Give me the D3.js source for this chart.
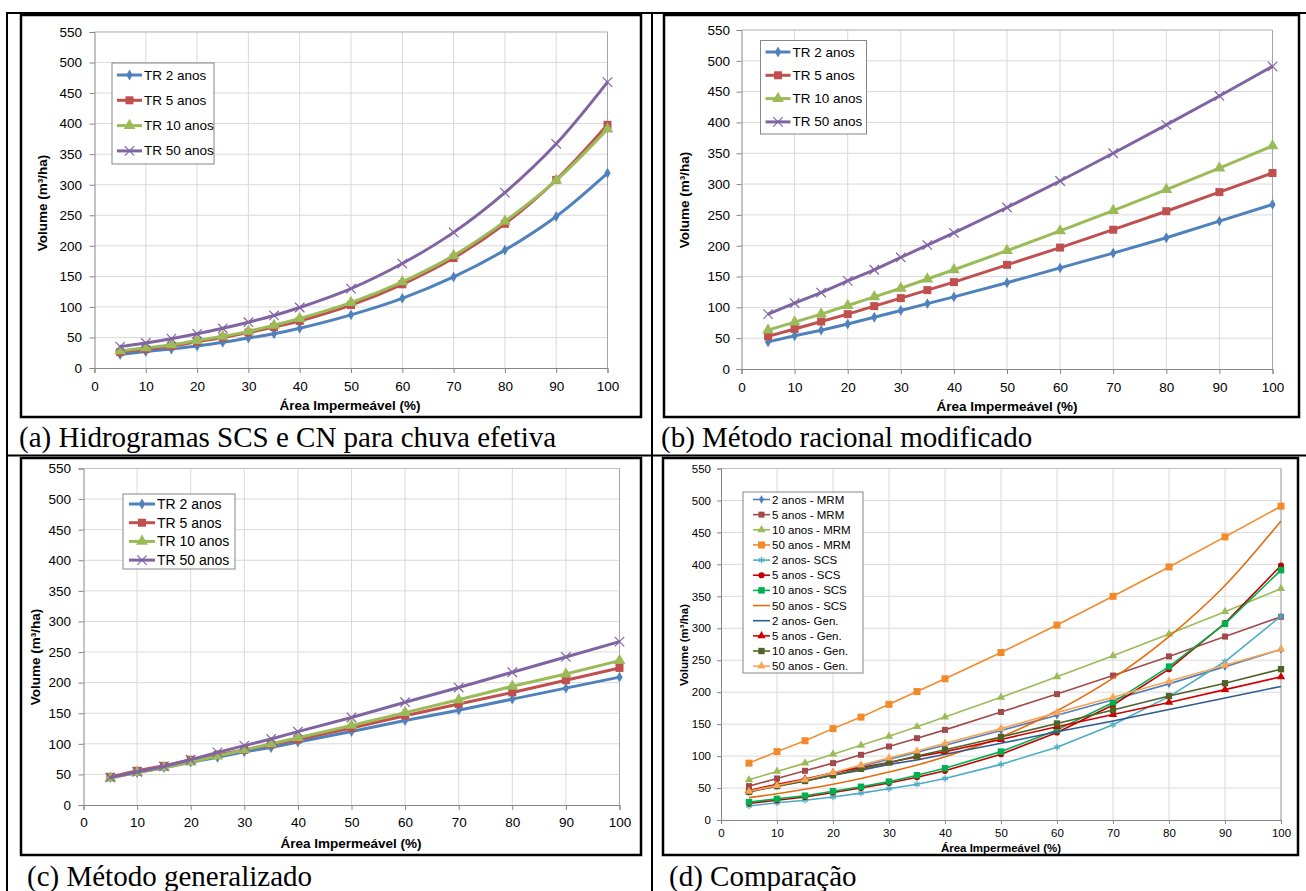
<!DOCTYPE html>
<html>
<head>
<meta charset="utf-8">
<script src="https://cdn.jsdelivr.net/npm/d3@7"></script>
<style>
  body { margin: 0; background: #fff; }
  svg { display: block; }
  text { font-family: "Liberation Sans", Arial, sans-serif; fill: #000; }
  .caption { font-family: "Liberation Serif", "Times New Roman", serif; }
</style>
</head>
<body>
<div id="canvas"></div>
<script>
// x values (% impermeable area) and axis ticks
const areas = [5, 10, 15, 20, 25, 30, 35, 40, 50, 60, 70, 80, 90, 100];
const xTicks = [0, 10, 20, 30, 40, 50, 60, 70, 80, 90, 100];
const yTicks = [0, 50, 100, 150, 200, 250, 300, 350, 400, 450, 500, 550];
const trNames = ["TR 2 anos", "TR 5 anos", "TR 10 anos", "TR 50 anos"];

// (a) hidrogramas SCS e CN
const scs2 = [22, 27, 31, 36, 42, 49, 56, 65, 87, 114, 149, 193, 248, 319];
const scs5 = [26, 31, 36, 43, 50, 58, 67, 77, 103, 137, 180, 236, 308, 398];
const scs10 = [28, 33, 38, 45, 52, 60, 70, 81, 107, 141, 184, 240, 307, 391];
const scs50 = [35, 41, 48, 56, 65, 75, 86, 99, 130, 171, 222, 287, 367, 468];
// (b) método racional modificado
const mrm2 = [44, 54, 63, 73, 84, 95, 106, 117, 140, 164, 188, 213, 240, 267];
const mrm5 = [53, 65, 77, 89, 102, 115, 128, 141, 169, 197, 226, 256, 287, 318];
const mrm10 = [63, 76, 89, 103, 117, 131, 146, 161, 192, 224, 257, 291, 326, 362];
const mrm50 = [89, 107, 124, 143, 161, 181, 201, 221, 262, 305, 350, 396, 443, 491];
// (c) método generalizado
const gen2 = [45, 53, 61, 70, 78, 87, 94, 103, 120, 138, 155, 173, 191, 209];
const gen5 = [46, 56, 64, 74, 82, 90, 99, 107, 126, 146, 165, 184, 204, 224];
const gen10 = [44, 53, 61, 70, 80, 90, 100, 110, 130, 151, 172, 194, 214, 236];
const gen50 = [45, 54, 63, 74, 86, 97, 108, 120, 143, 168, 192, 217, 242, 267];

// (d) legend names
const cmpNames = ["2 anos - MRM", "5 anos - MRM", "10 anos - MRM", "50 anos - MRM",
  "2 anos- SCS", "5 anos - SCS", "10 anos - SCS", "50 anos - SCS",
  "2 anos- Gen.", "5 anos - Gen.", "10 anos - Gen.", "50 anos - Gen."];

const trColors = ["#4f81bd", "#c0504d", "#9bbb59", "#8064a2"];
const trSymbols = [d3.symbolDiamond, d3.symbolSquare, d3.symbolTriangle, d3.symbolTimes];

const W = 1306, H = 891;
const svg = d3.select("#canvas").append("svg").attr("width", W).attr("height", H);
svg.append("rect").attr("width", W).attr("height", H).attr("fill", "#fff");

function trSeries(arrs, smooth) {
  return arrs.map((v, i) => ({name: trNames[i], values: v, color: trColors[i], symbol: trSymbols[i],
    size: [34, 64, 60, 60][i], smooth: smooth}));
}

const cmpSeries = [
  {values: mrm2, color: "#4f7fbd", symbol: d3.symbolDiamond, size: 22},
  {values: mrm5, color: "#a24a4b", symbol: d3.symbolSquare, size: 36},
  {values: mrm10, color: "#9bbb59", symbol: d3.symbolTriangle, size: 30},
  {values: mrm50, color: "#f38a2a", symbol: d3.symbolSquare, size: 49},
  {values: scs2, color: "#4bacc6", symbol: d3.symbolAsterisk, size: 30},
  {values: scs5, color: "#c00000", symbol: d3.symbolCircle, size: 30},
  {values: scs10, color: "#00b050", symbol: d3.symbolSquare, size: 42},
  {values: scs50, color: "#e46c0a", symbol: null, smooth: true},
  {values: gen2, color: "#2f5b8f", symbol: null},
  {values: gen5, color: "#d00000", symbol: d3.symbolTriangle, size: 30},
  {values: gen10, color: "#4f6228", symbol: d3.symbolSquare, size: 40},
  {values: gen50, color: "#f9a556", symbol: d3.symbolTriangle, size: 30}
].map((s, i) => Object.assign(s, {name: cmpNames[i]}));

const panels = [
  {frame: [21, 15, 641, 417], plot: [94.5, 607.5, 32, 368], series: trSeries([scs2, scs5, scs10, scs50], true),
   lw: 3, fs: 13.5, tfs: 13.5, ytitle: "Volume  (m³/ha)", ytx: 42, yty: 203, xtx: 350, xty: 405, ypad: 7.5, xpad: 8.3, tick: 5,
   legend: {x: 112, y: 63, w: 102, h: 101, first: 75, step: 25.3, l0: 117, l1: 142, tx: 144, fs: 13.5},
   caption: "(a) Hidrogramas SCS e CN para chuva efetiva", cx: 19, cy: 447},
  {frame: [664, 15, 1299, 417], plot: [741.5, 1272.5, 30, 369], series: trSeries([mrm2, mrm5, mrm10, mrm50], false),
   lw: 3, fs: 13.5, tfs: 13.5, ytitle: "Volume (m³/ha)", ytx: 684, yty: 200, xtx: 1007, xty: 406, ypad: 6.5, xpad: 8.3, tick: 5,
   legend: {x: 760.5, y: 40.5, w: 106, h: 93.5, first: 52, step: 23.3, l0: 765.5, l1: 790.5, tx: 792.5, fs: 13.5},
   caption: "(b) Método racional modificado", cx: 661, cy: 447},
  {frame: [21, 458, 641, 855], plot: [83.5, 619.5, 468.5, 805], series: trSeries([gen2, gen5, gen10, gen50], false),
   lw: 3, fs: 13.5, tfs: 13.5, ytitle: "Volume  (m³/ha)", ytx: 35, yty: 657, xtx: 351, xty: 843, ypad: 7.5, xpad: 7.3, tick: 5,
   legend: {x: 123, y: 494, w: 112, h: 75, first: 504, step: 18.7, l0: 129, l1: 155, tx: 157, fs: 14},
   caption: "(c) Método generalizado", cx: 27, cy: 886},
  {frame: [663, 458, 1298, 855], plot: [721, 1281, 468.5, 820], series: cmpSeries,
   lw: 1.6, fs: 11.5, tfs: 11.5, ytitle: "Volume (m³/ha)", ytx: 684, yty: 645, xtx: 1001, xty: 848, ypad: 6, xpad: 5, tick: 4,
   legend: {x: 743, y: 492, w: 120, h: 181, first: 499.5, step: 15.15, l0: 753, l1: 770, tx: 772, fs: 11.5},
   caption: "(d) Comparação", cx: 669, cy: 886}
];

function marker(sel, s, size) {
  const stroked = s.symbol === d3.symbolTimes || s.symbol === d3.symbolAsterisk;
  sel.attr("d", d3.symbol(s.symbol, size))
    .attr("fill", stroked ? "none" : s.color)
    .attr("stroke", stroked ? s.color : "none")
    .attr("stroke-width", stroked ? 1.2 : 0);
}

function drawPanel(p) {
  const [fx0, fy0, fx1, fy1] = p.frame;
  const [px0, px1, py0, py1] = p.plot;
  const x = d3.scaleLinear().domain([0, 100]).range([px0, px1]);
  const y = d3.scaleLinear().domain([0, 550]).range([py1, py0]);
  const g = svg.append("g");

  g.append("rect").attr("x", fx0).attr("y", fy0).attr("width", fx1 - fx0).attr("height", fy1 - fy0)
    .attr("fill", "#fff").attr("stroke", "#000").attr("stroke-width", 2.5);

  // gridlines
  g.append("g").selectAll("line").data(xTicks.slice(1)).join("line")
    .attr("x1", d => x(d)).attr("x2", d => x(d)).attr("y1", py0).attr("y2", py1)
    .attr("stroke", "#d9d9d9").attr("stroke-width", 1);
  g.append("g").selectAll("line").data(yTicks.slice(1)).join("line")
    .attr("x1", px0).attr("x2", px1).attr("y1", d => y(d)).attr("y2", d => y(d))
    .attr("stroke", "#d9d9d9").attr("stroke-width", 1);
  g.append("line").attr("x1", px1).attr("x2", px1).attr("y1", py0).attr("y2", py1).attr("stroke", "#a6a6a6");
  g.append("line").attr("x1", px0).attr("x2", px1).attr("y1", py0).attr("y2", py0).attr("stroke", "#bfbfbf");

  // axes
  const ax = g.append("g").attr("transform", `translate(0,${py1})`)
    .call(d3.axisBottom(x).tickValues(xTicks).tickSize(p.tick).tickPadding(p.xpad));
  const ay = g.append("g").attr("transform", `translate(${px0},0)`)
    .call(d3.axisLeft(y).tickValues(yTicks).tickSize(p.tick).tickPadding(p.ypad));
  [ax, ay].forEach(a => {
    a.select(".domain").attr("stroke", "#868686");
    a.selectAll(".tick line").attr("stroke", "#868686");
    a.selectAll("text").attr("font-size", p.fs).attr("font-family", "Liberation Sans, Arial, sans-serif").attr("fill", "#000");
  });

  g.append("text").attr("transform", `translate(${p.ytx},${p.yty}) rotate(-90)`)
    .attr("text-anchor", "middle").attr("dominant-baseline", "central")
    .attr("font-size", p.tfs).attr("font-weight", "bold").text(p.ytitle);
  g.append("text").attr("x", p.xtx).attr("y", p.xty)
    .attr("text-anchor", "middle").attr("dominant-baseline", "central")
    .attr("font-size", p.tfs).attr("font-weight", "bold").text("Área Impermeável (%)");

  // series
  p.series.forEach(s => {
    const line = d3.line().x((d, i) => x(areas[i])).y(d => y(d))
      .curve(s.smooth ? d3.curveCatmullRom.alpha(0.5) : d3.curveLinear);
    g.append("path").datum(s.values).attr("d", line)
      .attr("fill", "none").attr("stroke", s.color).attr("stroke-width", p.lw)
      .attr("stroke-linejoin", "round");
    if (s.symbol) {
      g.append("g").selectAll("path").data(s.values).join("path")
        .attr("transform", (d, i) => `translate(${x(areas[i])},${y(d)})`)
        .call(marker, s, s.size);
    }
  });

  // legend
  const L = p.legend;
  const lg = g.append("g");
  lg.append("rect").attr("x", L.x).attr("y", L.y).attr("width", L.w).attr("height", L.h)
    .attr("fill", "#fff").attr("stroke", "#868686").attr("stroke-width", 1);
  p.series.forEach((s, i) => {
    const ly = L.first + i * L.step;
    lg.append("line").attr("x1", L.l0).attr("x2", L.l1).attr("y1", ly).attr("y2", ly)
      .attr("stroke", s.color).attr("stroke-width", p.lw);
    if (s.symbol) {
      lg.append("path").attr("transform", `translate(${(L.l0 + L.l1) / 2},${ly})`).call(marker, s, s.size);
    }
    lg.append("text").attr("x", L.tx).attr("y", ly).attr("dominant-baseline", "central")
      .attr("font-size", L.fs).attr("fill", "#000").text(s.name);
  });

  svg.append("text").attr("class", "caption").attr("x", p.cx).attr("y", p.cy)
    .attr("font-size", 29).text(p.caption);
}

panels.forEach(drawPanel);

// table lines around the four panels
const table = svg.append("g").attr("stroke", "#000").attr("stroke-width", 2);
table.append("line").attr("x1", 7).attr("x2", W).attr("y1", 13).attr("y2", 13);
table.append("line").attr("x1", 7).attr("x2", W).attr("y1", 455.5).attr("y2", 455.5);
table.append("line").attr("x1", 7).attr("x2", 7).attr("y1", 12).attr("y2", H);
table.append("line").attr("x1", 652).attr("x2", 652).attr("y1", 12).attr("y2", H);
</script>
</body>
</html>
